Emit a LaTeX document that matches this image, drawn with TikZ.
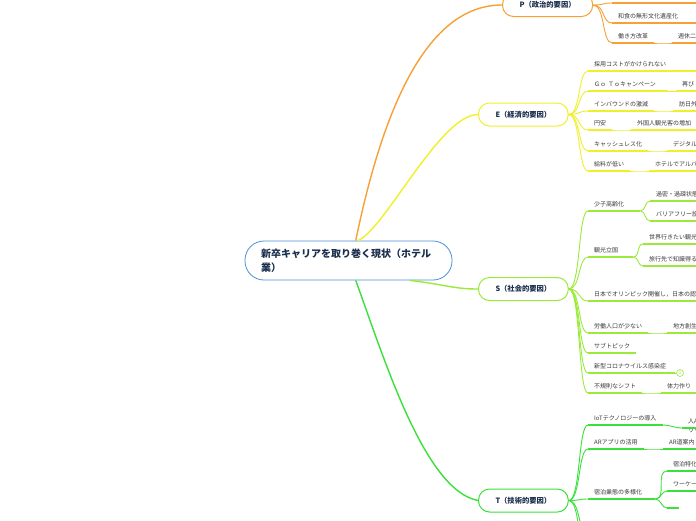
\documentclass[tikz,border=0pt]{standalone}
\usepackage{fontspec}
\setmainfont{Noto Sans CJK JP}
\usepackage{xcolor}
\usetikzlibrary{positioning}

\definecolor{hubblue}{HTML}{4A90D9}
\definecolor{navy}{HTML}{1B2F4D}
\definecolor{porange}{HTML}{F6A035}
\definecolor{eyellow}{HTML}{F0F02A}
\definecolor{sgreen}{HTML}{9BEA3B}
\definecolor{tgreen}{HTML}{3BE03B}
\definecolor{ink}{HTML}{3A3A3A}

\begin{document}
\begin{tikzpicture}[x=1pt, y=-1pt,
    hub/.style={draw=hubblue, line width=0.8pt, rounded corners=19pt, fill=white, text width=175pt, align=left, inner xsep=16pt, minimum height=39pt, font=\fontsize{10}{14}\selectfont\bfseries, text=navy},
    pill/.style={draw, line width=1pt, rounded corners=11pt, fill=white, anchor=west, minimum height=23pt, inner xsep=17pt, font=\fontsize{7.3}{9}\selectfont\bfseries, text=navy},
    topic/.style={anchor=south west, inner xsep=6pt, inner ysep=3pt, text height=5pt, text depth=1pt, align=left, font=\fontsize{6}{9}\selectfont, text=ink},
    limb/.style={line width=1.4pt},
    twig/.style={line width=0.9pt},
    uline/.style={line width=1.5pt}
  ]
  \useasboundingbox (0,0) rectangle (696,520);
  \fill[white] (0,0) rectangle (696,520);
  \clip (0,0) rectangle (696,520);

  % centre and the four PEST topics
  \node[hub] (hub) at (348.5,260.5) {新卒キャリアを取り巻く現状（ホテル\\業）};
  \node[pill, draw=porange] (ppill) at (502,5) {P（政治的要因）};
  \node[pill, draw=eyellow] (epill) at (478,114.5) {E（経済的要因）};
  \node[pill, draw=sgreen] (spill) at (478,289) {S（社会的要因）};
  \node[pill, draw=tgreen] (tpill) at (478,500.5) {T（技術的要因）};

  \draw[limb, porange] (hub.70) .. controls +(29,-141) and +(-72,0) .. (ppill.west);
  \draw[limb, eyellow] (hub.65) .. controls +(27,-11) and +(-38,0) .. (epill.west);
  \draw[limb, sgreen] (hub.-18) .. controls +(35,4) and +(-25,0) .. (spill.west);
  \draw[limb, tgreen] (hub.-70) .. controls +(29,80) and +(-53,-10) .. (tpill.west);

  % P
  \node[topic, text width=100pt] (p1) at (612,3) {};
  \node[topic, text width=100pt] (p2) at (612,23) {和食の無形文化遺産化};
  \node[topic] (p3) at (612,43) {働き方改革};
  \node[topic, text width=40pt] (p3a) at (672,43) {週休二};
  \foreach \n in {p1,p2,p3}
    \draw[twig, porange] (ppill.east) .. controls +(12,0) and +(-10,0) .. (\n.south west);
  \draw[twig, porange] (p3.south east) to[out=0,in=180] (p3a.south west);
  \foreach \n in {p1,p2,p3,p3a}
    \draw[uline, porange] (\n.south west) -- (\n.south east);

  % E
  \node[topic, text width=110pt] (e1) at (588,71) {採用コストがかけられない};
  \node[topic, text width=68pt] (e2) at (588,91) {Ｇｏ Ｔｏキャンペーン};
  \node[topic, text width=40pt] (e2a) at (676,91) {再び};
  \node[topic] (e3) at (588,111) {インバウンドの激減};
  \node[topic, text width=40pt] (e3a) at (673,111) {訪日外};
  \node[topic] (e4) at (588,130) {円安};
  \node[topic, text width=60pt] (e4a) at (631,130) {外国人観光客の増加};
  \node[topic] (e5) at (588,151) {キャッシュレス化};
  \node[topic, text width=40pt] (e5a) at (667,151) {デジタル};
  \node[topic] (e6) at (588,171) {給料が低い};
  \node[topic, text width=50pt] (e6a) at (649,171) {ホテルでアルバ};
  \foreach \n in {e1,e2,e3,e4,e5,e6}
    \draw[twig, eyellow] (epill.east) .. controls +(12,0) and +(-10,0) .. (\n.south west);
  \foreach \a/\b in {e2/e2a,e3/e3a,e4/e4a,e5/e5a,e6/e6a}
    \draw[twig, eyellow] (\a.south east) to[out=0,in=180] (\b.south west);
  \foreach \n in {e1,e2,e2a,e3,e3a,e4,e4a,e5,e5a,e6,e6a}
    \draw[uline, eyellow] (\n.south west) -- (\n.south east);

  % S
  \node[topic, text width=40pt] (s1) at (588,211) {少子高齢化};
  \node[topic, text width=50pt] (s1a) at (650,201) {過密・過疎状態};
  \node[topic, text width=50pt] (s1b) at (650,221) {バリアフリー設};
  \node[topic, text width=33pt] (s2) at (588,257) {観光立国};
  \node[topic, text width=55pt] (s2a) at (643,244) {世界行きたい観光};
  \node[topic, text width=55pt] (s2b) at (643,266) {旅行先で知識得る};
  \node[topic, text width=110pt] (s3) at (588,301) {日本でオリンピック開催し，日本の認};
  \node[topic] (s4) at (588,333) {労働人口が少ない};
  \node[topic, text width=40pt] (s4a) at (667,333) {地方創生};
  \node[topic] (s5) at (588,353) {サブトピック};
  \node[topic, text width=75pt] (s6) at (588,373) {新型コロナウイルス感染症};
  \node[topic] (s7) at (588,393) {不規則なシフト};
  \node[topic, text width=40pt] (s7a) at (661,393) {体力作り};
  \foreach \n in {s1,s2,s3,s4,s5,s6,s7}
    \draw[twig, sgreen] (spill.east) .. controls +(12,0) and +(-10,0) .. (\n.south west);
  \foreach \a/\b in {s1/s1a,s1/s1b,s2/s2a,s2/s2b,s4/s4a,s7/s7a}
    \draw[twig, sgreen] (\a.south east) to[out=0,in=180] (\b.south west);
  \foreach \n in {s1,s1a,s1b,s2,s2a,s2b,s3,s4,s4a,s5,s6,s7,s7a}
    \draw[uline, sgreen] (\n.south west) -- (\n.south east);
  \node[circle, draw=sgreen, fill=white, line width=0.6pt, inner sep=0pt, minimum size=7pt, font=\fontsize{4.5}{5}\selectfont, text=sgreen] (s6n) at (680,373) {1};
  \draw[twig, sgreen] (s6.south east) -- (s6n.west);

  % T
  \node[topic] (t1) at (588,425) {IoTテクノロジーの導入};
  \node[topic, text width=40pt] (t1a) at (682,428) {人A\\リッ};
  \node[topic] (t2) at (588,449) {ARアプリの活用};
  \node[topic, text width=40pt] (t2a) at (663,449) {AR道案内};
  \node[topic, text width=55pt] (t3) at (588,499) {宿泊業態の多様化};
  \node[topic, text width=40pt] (t3a) at (667,471) {宿泊特化};
  \node[topic, text width=40pt] (t3b) at (667,491) {ワーケー};
  \node[topic, text width=0pt] (t3c) at (667,508) {};
  \coordinate (t4) at (588,535);
  \coordinate (t5) at (588,560);
  \foreach \n in {t1,t2,t3}
    \draw[twig, tgreen] (tpill.east) .. controls +(12,0) and +(-10,0) .. (\n.south west);
  \foreach \n in {t4,t5}
    \draw[twig, tgreen] (tpill.east) .. controls +(12,0) and +(-10,0) .. (\n);
  \foreach \a/\b in {t1/t1a,t2/t2a,t3/t3a,t3/t3b,t3/t3c}
    \draw[twig, tgreen] (\a.south east) to[out=0,in=180] (\b.south west);
  \foreach \n in {t1,t1a,t2,t2a,t3,t3a,t3b,t3c}
    \draw[uline, tgreen] (\n.south west) -- (\n.south east);
\end{tikzpicture}
\end{document}
